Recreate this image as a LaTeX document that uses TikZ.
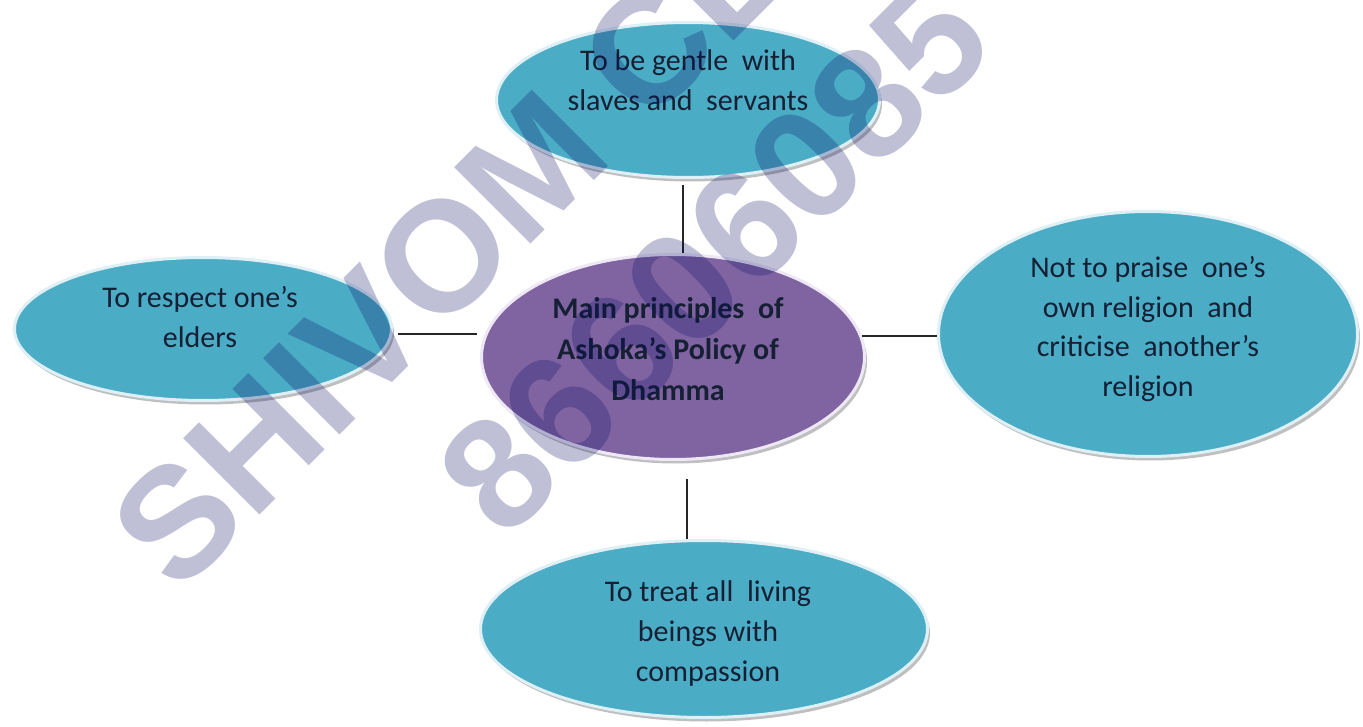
\documentclass[tikz,border=0pt]{standalone}
\usepackage{fontspec}
\setmainfont{Carlito}
\newfontfamily\wmfont{Liberation Sans}
\usetikzlibrary{shapes.geometric,shadows}

\definecolor{bubbleaqua}{RGB}{75,172,198}
\definecolor{aquarim}{RGB}{222,240,246}
\definecolor{bubblepurple}{RGB}{128,100,162}
\definecolor{purplerim}{RGB}{238,232,246}
\definecolor{labelink}{RGB}{22,32,52}
\definecolor{wmnavy}{RGB}{0,5,95}

\tikzset{
  bubble/.style={ellipse, inner sep=0pt, line width=3pt,
    drop shadow={shadow xshift=2.5pt, shadow yshift=-4pt, opacity=.55, fill=black!45}},
  aquabubble/.style={bubble, fill=bubbleaqua, draw=aquarim},
  purplebubble/.style={bubble, fill=bubblepurple, draw=purplerim},
  caption/.style={align=center, text=labelink, inner sep=0pt,
    font=\fontsize{30}{40}\selectfont},
  link/.style={line width=1.6pt, draw=black!85},
  watermark/.style={inner sep=0pt, anchor=base west, rotate=45,
    text=wmnavy, text opacity=.25,
    font=\wmfont\bfseries\fontsize{157}{160}\selectfont}
}

\begin{document}
\begin{tikzpicture}[x=1pt,y=-1pt]
  \fill[white] (0,0) rectangle (1363,727);
  \useasboundingbox (0,0) rectangle (1363,727);
  \clip (0,0) rectangle (1363,727);

  % ellipses
  \node[aquabubble, minimum width=383pt, minimum height=155pt] (gentle) at (688,100) {};
  \node[aquabubble, minimum width=377pt, minimum height=143pt] (elders) at (203,329) {};
  \node[purplebubble, minimum width=383pt, minimum height=205pt] (dhamma) at (673,357) {};
  \node[aquabubble, minimum width=419pt, minimum height=245pt] (religion) at (1148,334) {};
  \node[aquabubble, minimum width=447pt, minimum height=177pt] (compassion) at (704,629) {};

  % captions
  \node[caption] (gentletext) at (688,83)
    {\strut To be gentle~ with\\ slaves and~ servants\strut};
  \node[caption] (elderstext) at (200,320)
    {\strut To respect one’s\\ elders\strut};
  \node[caption, font=\bfseries\fontsize{30}{41}\selectfont] (dhammatext) at (668,351)
    {\strut Main principles~ of\\ Ashoka’s Policy of\\ Dhamma\strut};
  \node[caption, font=\fontsize{30}{39.5}\selectfont] (religiontext) at (1148,329)
    {\strut Not to praise~ one’s\\ own religion~ and\\ criticise~ another’s\\ religion\strut};
  \node[caption] (compassiontext) at (708,633)
    {\strut To treat all~ living\\ beings with\\ compassion\strut};

  % connectors
  \draw[link] ([xshift=-5pt,yshift=-6pt]gentle.south) -- ([xshift=-5pt]gentle.south |- dhamma.north);
  \draw[link] ([xshift=5pt,yshift=-5pt]elders.east) -- ([xshift=-3pt,yshift=-5pt]elders.east -| dhamma.west);
  \draw[link] ([xshift=-4pt,yshift=-2pt]dhamma.east |- religion.west) -- ([yshift=-2pt]religion.west);
  \draw[link] ([xshift=-17pt]compassion.north) -- ([xshift=-17pt,yshift=-18pt]compassion.north |- dhamma.south);

  % watermark
  \node[watermark] (wmname) at (178,597) {SHIVOM CL};
  \node[watermark] (wmphone) at (505,543) {86606085};
\end{tikzpicture}
\end{document}
